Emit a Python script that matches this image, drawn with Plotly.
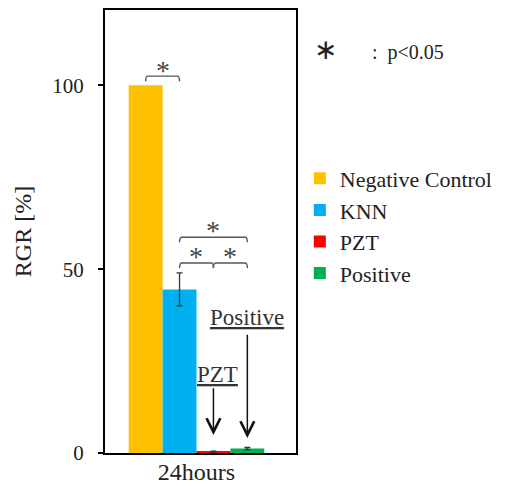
import plotly.graph_objects as go

categories = ["24hours"]
series_names = ["Negative Control", "KNN", "PZT", "Positive"]
series_values = [100.0, 44.5, 0.3, 1.2]
series_errors = [0.0, 4.5, 0.2, 0.3]
series_colors = ["#FFC000", "#00B0F0", "#FF0000", "#00B050"]
y_ticks = [0, 50, 100]

FONT = "'Liberation Serif', 'Times New Roman', serif"
TXT = "#222222"
BARGAP = 0.29

fig = go.Figure()
for name, v, e, c in zip(series_names, series_values, series_errors, series_colors):
    fig.add_trace(go.Bar(
        x=[0], y=[v], name=name, marker=dict(color=c, line=dict(width=0)),
        error_y=dict(type="data", array=[e], visible=e > 0, color="#333333",
                     thickness=1.3, width=3),
    ))

# bar centre positions in data units (grouped bars around category 0)
n = len(series_names)
w = (1 - BARGAP) / n
cx = [-(1 - BARGAP) / 2 + w * (i + 0.5) for i in range(n)]

shapes = []
annotations = []
BR = "#555555"


def bracket(x1, x2, y, d=1.4):
    k = 0.012
    path = (f"M{x1},{y-d} Q{x1},{y} {x1+k},{y} L{x2-k},{y} Q{x2},{y} {x2},{y-d}")
    shapes.append(dict(type="path", path=path, xref="x", yref="y",
                       line=dict(color=BR, width=1.4)))


def star(x, y):
    annotations.append(dict(x=x, y=y, xref="x", yref="y", text="*", showarrow=False,
                            font=dict(family=FONT, size=28, color="#444444"),
                            yanchor="middle"))


bracket(cx[0], cx[1], 102.5)
star((cx[0] + cx[1]) / 2, 104.0)
bracket(cx[1], cx[2], 51.7)
bracket(cx[2], cx[3], 51.7)
star((cx[1] + cx[2]) / 2, 53.5)
star((cx[2] + cx[3]) / 2, 53.5)
bracket(cx[1], cx[3], 58.7)
star((cx[1] + cx[3]) / 2, 60.5)

# arrows to the small bars
for xi, head, tail, label, ly, xs in [(cx[2], 4.9, 18.0, "PZT", 21.3, 4),
                                      (cx[3], 4.1, 32.6, "Positive", 36.8, 0)]:
    annotations.append(dict(x=xi, y=head, ax=xi, ay=tail, xref="x", yref="y",
                            axref="x", ayref="y", text="", showarrow=True,
                            arrowhead=5, arrowsize=1.8, arrowwidth=1.5,
                            arrowcolor="#111111"))
    annotations.append(dict(x=xi, y=ly, xref="x", yref="y", text=f"<u>{label}</u>",
                            showarrow=False, xshift=xs,
                            font=dict(family=FONT, size=23, color="#333333"),
                            yanchor="middle"))

annotations.append(dict(x=1.086, y=0.91, xref="paper", yref="paper",
                        text='<span style="font-size:28px">∗</span>'
                             '&nbsp;&nbsp;&nbsp;&nbsp;&nbsp;&nbsp;&nbsp;:&nbsp;&nbsp;p&lt;0.05',
                        showarrow=False, xanchor="left", yanchor="middle",
                        font=dict(family=FONT, size=20, color=TXT)))

fig.update_layout(
    width=506, height=486,
    margin=dict(l=105, r=210, t=10, b=33, autoexpand=False),
    paper_bgcolor="white", plot_bgcolor="white",
    barmode="group", bargap=BARGAP, bargroupgap=0,
    font=dict(family=FONT, size=21, color=TXT),
    showlegend=True,
    legend=dict(x=1.02, y=0.667, xanchor="left", yanchor="top",
                font=dict(family=FONT, size=22, color=TXT),
                itemsizing="constant", tracegroupgap=0, bgcolor="rgba(0,0,0,0)"),
    shapes=shapes, annotations=annotations,
    xaxis=dict(range=[-0.479, 0.521], tickvals=[0], ticktext=categories,
               showline=True, linecolor="black", linewidth=2, mirror=True,
               ticks="", showgrid=False, zeroline=False, automargin=False,
               ticklabelstandoff=-4,
               tickfont=dict(family=FONT, size=24, color=TXT)),
    yaxis=dict(range=[0, 120.5], tickvals=y_ticks, showline=True, linecolor="black",
               linewidth=2, mirror=True, ticks="outside", ticklen=5, tickwidth=1.5,
               tickcolor="black", showgrid=False, zeroline=False, automargin=False,
               ticklabelstandoff=10,
               tickfont=dict(family=FONT, size=21, color=TXT),
               title=dict(text="RGR [%]", standoff=14,
                          font=dict(family=FONT, size=24, color=TXT))),
)

fig.write_html("out.html", config={"displayModeBar": False},
               post_script="document.body.style.margin='0';document.body.style.padding='0';")
